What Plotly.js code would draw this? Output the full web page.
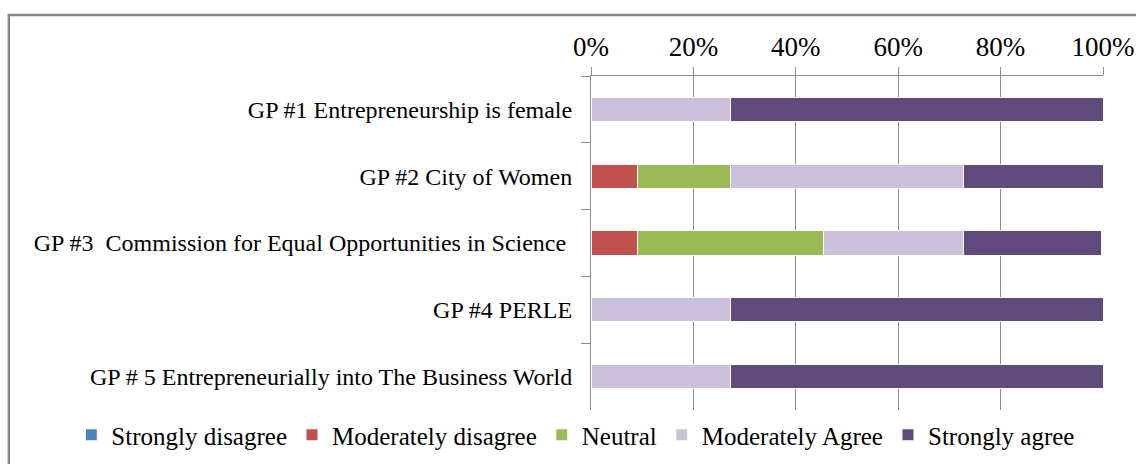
<!DOCTYPE html>
<html>
<head>
<meta charset="utf-8">
<script src="https://cdn.plot.ly/plotly-3.0.1.min.js"></script>
<style>
html,body{margin:0;padding:0;background:#fff;}
#chart{width:1136px;height:464px;}
</style>
</head>
<body>
<div id="chart"></div>
<script>
const categories = [
  "GP #1 Entrepreneurship is female",
  "GP #2 City of Women",
  "GP #3\u00a0 Commission for Equal Opportunities in Science\u00a0",
  "GP #4 PERLE",
  "GP # 5 Entrepreneurially into The Business World"
];
const seriesNames = ["Strongly disagree", "Moderately disagree", "Neutral", "Moderately Agree", "Strongly agree"];
const stronglyDisagree   = [0, 0, 0, 0, 0];
const moderatelyDisagree = [0, 0.091, 0.091, 0, 0];
const neutral            = [0, 0.182, 0.364, 0, 0];
const moderatelyAgree    = [0.273, 0.455, 0.273, 0.273, 0.273];
const stronglyAgree      = [0.727, 0.272, 0.270, 0.727, 0.727];
const xTickVals = [0, 0.2, 0.4, 0.6, 0.8, 1.0];
const xTickText = ["0%", "20%", "40%", "60%", "80%", "100%"];

const colors = ["#4F81BD", "#C0504D", "#9BBB59", "#CCC1DA", "#604A7B"];
const seriesVals = [stronglyDisagree, moderatelyDisagree, neutral, moderatelyAgree, stronglyAgree];

const FONT = "Liberation Serif, Cambria, serif";

const traces = seriesNames.map((name, i) => ({
  type: "bar",
  orientation: "h",
  name: name,
  y: categories,
  x: seriesVals[i],
  width: 0.36,
  marker: {color: colors[i], line: {color: "#ffffff", width: 1}},
  hoverinfo: "x+name"
}));

const layout = {
  width: 1136,
  height: 464,
  paper_bgcolor: "#ffffff",
  plot_bgcolor: "#ffffff",
  barmode: "stack",
  margin: {l: 591, r: 33, t: 76, b: 54, autoexpand: false},
  font: {family: FONT, size: 24, color: "#000000"},
  showlegend: true,
  legend: {
    orientation: "h",
    x: -1.015, xanchor: "left",
    y: -0.075, yanchor: "middle",
    font: {family: FONT, size: 25, color: "#000000"},
    itemwidth: 30,
    tracegroupgap: 0,
    traceorder: "normal"
  },
  xaxis: {
    side: "top",
    range: [0, 1],
    tickvals: xTickVals,
    ticktext: xTickText,
    showgrid: true,
    gridcolor: "#8c8c8c",
    gridwidth: 1,
    zeroline: false,
    showline: true,
    linecolor: "#8c8c8c",
    linewidth: 1,
    ticks: "outside",
    ticklen: 8,
    tickcolor: "#8c8c8c",
    tickfont: {family: FONT, size: 27, color: "#000000"},
    fixedrange: true
  },
  yaxis: {
    type: "category",
    autorange: "reversed",
    showgrid: false,
    showline: true,
    linecolor: "#8c8c8c",
    linewidth: 1,
    ticks: "outside",
    ticklen: 9,
    tickcolor: "#8c8c8c",
    tickson: "boundaries",
    ticklabelstandoff: 13,
    tickfont: {family: FONT, size: 24, color: "#000000"},
    fixedrange: true
  },
  shapes: [{
    type: "rect",
    xref: "paper", yref: "paper",
    x0: -1.137, x1: 1.2,
    y0: -0.4, y1: 1.183,
    line: {color: "#868686", width: 2.5},
    fillcolor: "rgba(0,0,0,0)",
    layer: "below"
  }]
};

Plotly.newPlot("chart", traces, layout, {displayModeBar: false, staticPlot: true});
</script>
</body>
</html>
